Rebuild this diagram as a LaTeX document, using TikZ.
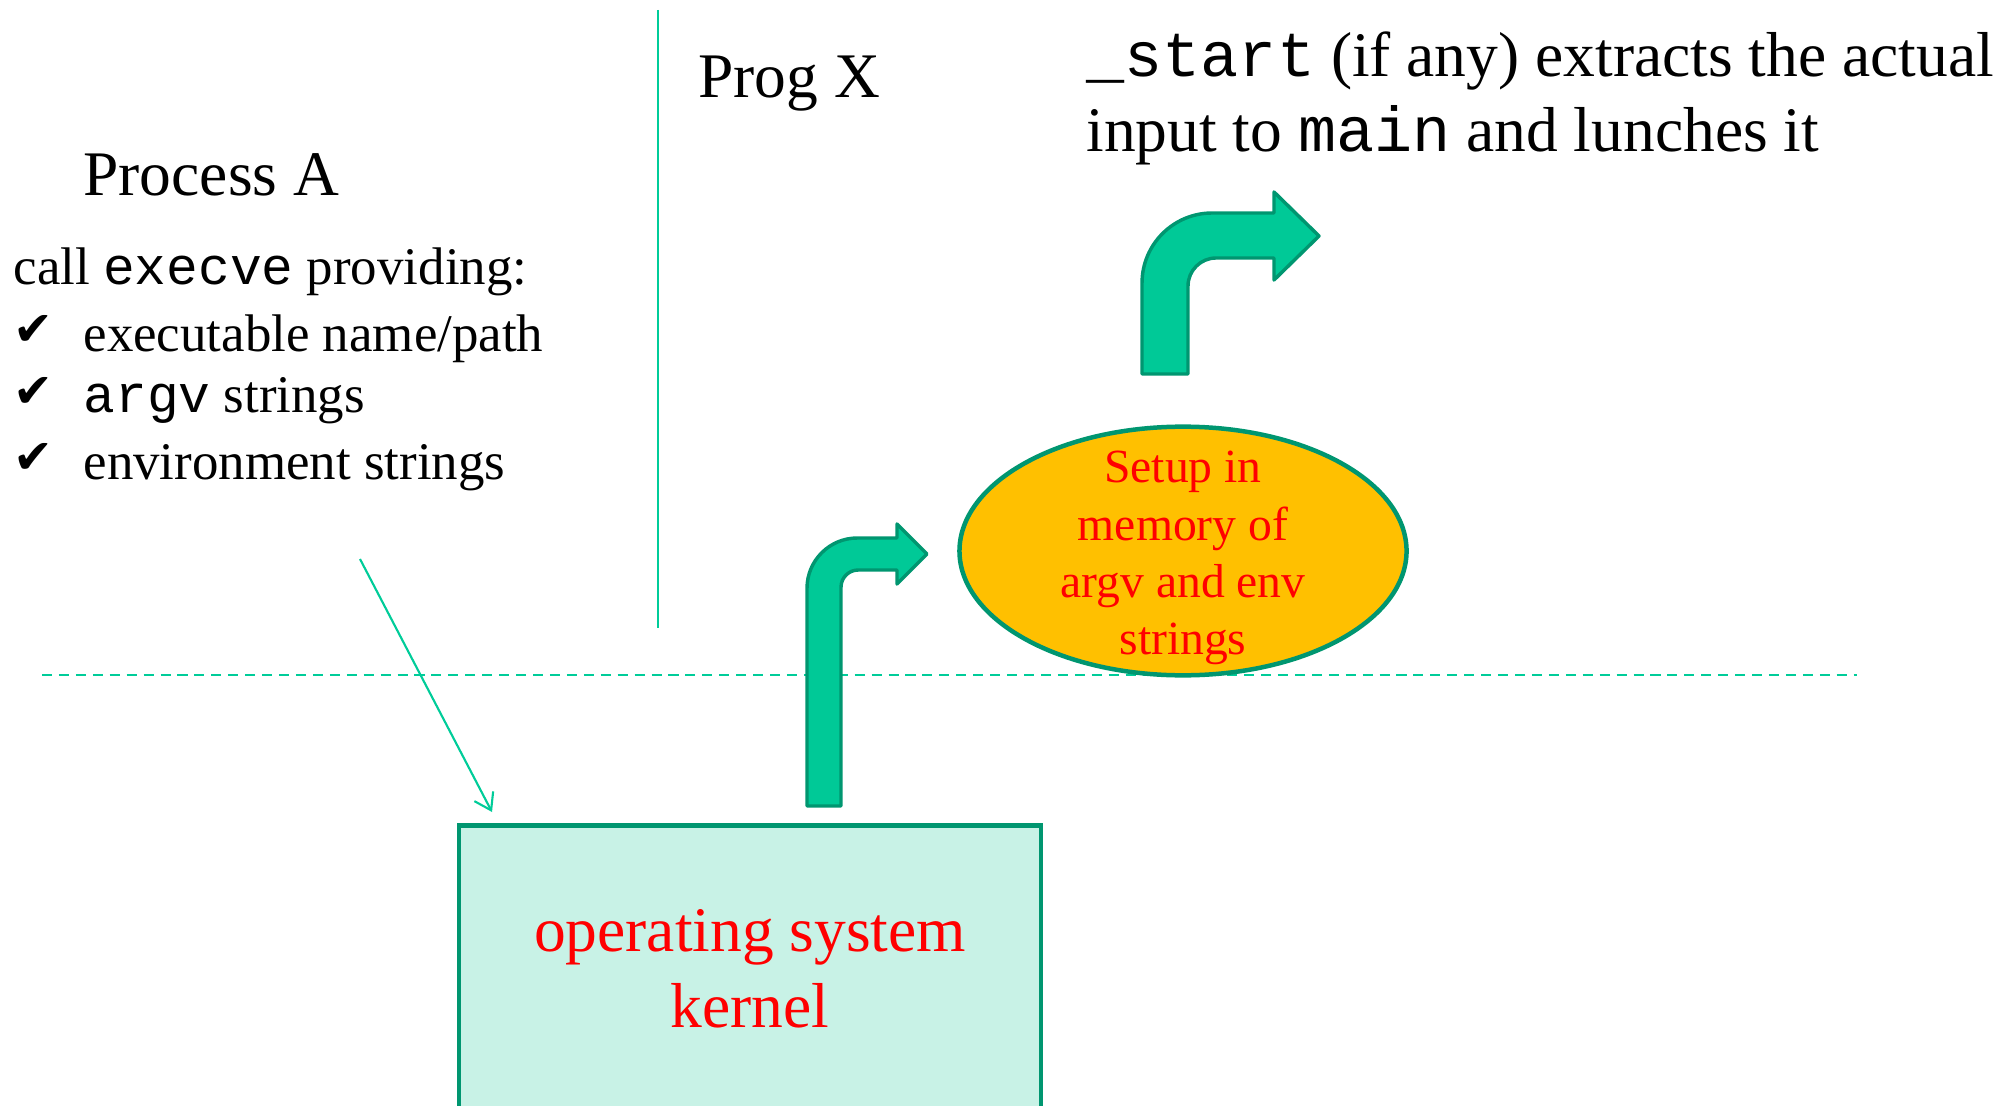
\documentclass[tikz,border=0pt]{standalone}
\usepackage{fontspec}
\setmainfont{Liberation Serif}
\setmonofont{Liberation Mono}
\newfontfamily\symfont{DejaVu Sans}
\usetikzlibrary{shapes.geometric,arrows.meta}
\definecolor{arrowFill}{RGB}{0,201,151}
\definecolor{darkGreen}{RGB}{0,150,112}
\definecolor{lineGreen}{RGB}{0,204,153}
\definecolor{kernelFill}{RGB}{200,242,230}
\definecolor{setupFill}{RGB}{255,192,0}

\begin{document}
\begin{tikzpicture}[x=0.378pt, y=-0.378pt,
    bigText/.style={inner sep=0pt, anchor=base west, font=\fontsize{24}{28.8}\selectfont},
    listText/.style={inner sep=0pt, anchor=base west, font=\fontsize{20}{24}\selectfont},
    tickStyle/.style={inner sep=0pt, anchor=base west, font=\symfont\fontsize{18}{20}\selectfont},
    bentArrow/.style={draw=darkGreen, fill=arrowFill, line width=1.3pt, line join=round},
    thinLine/.style={lineGreen, line width=0.8pt},
    kernelStyle/.style={rectangle, draw=darkGreen, fill=kernelFill, line width=1.7pt, minimum width=220pt, minimum height=108.5pt, align=center, text=red, font=\fontsize{24}{28.8}\selectfont},
    setupStyle/.style={ellipse, draw=darkGreen, fill=setupFill, line width=1.7pt, minimum width=169pt, minimum height=94pt, inner sep=0pt},
    setupFont/.style={align=center, text=red, inner sep=0pt, font=\fontsize{18}{21.6}\selectfont}]
    \clip (0,0) rectangle (2001,1106);

    % dividers
    \draw[thinLine] (658,10) -- (658,628);
    \draw[thinLine, dash pattern=on 3.8pt off 2.6pt] (42,675) -- (1857,675);

    % process A side
    \node[bigText] (procA) at (83,196) {Process A};
    \node[listText] (callLine) at (13,285) {call \texttt{execve} providing:};
    \node[tickStyle] (tick1) at (13,346) {✔};
    \node[listText] (item1) at (83,352) {executable name/path};
    \node[tickStyle] (tick2) at (13,407) {✔};
    \node[listText] (item2) at (83,413) {\texttt{argv} strings};
    \node[tickStyle] (tick3) at (13,473) {✔};
    \node[listText] (item3) at (83,479) {environment strings};

    % prog X side
    \node[bigText] (progX) at (698,98) {Prog X};
    \node[bigText] (startLine) at (1086,77) {\texttt{\_start} (if any) extracts the actual};
    \node[bigText] (mainLine) at (1086,152) {input to \texttt{main} and lunches it};

    \node[setupStyle] (setup) at (1183,551) {};
    \node[setupFont] (setupLabel) at (1183,558) {Setup in\\memory of\\argv and env\\strings};

    \node[kernelStyle] (kernel) at (750,969) {operating system\\kernel};

    % call into the kernel
    \coordinate (callFrom) at (360,559);
    \coordinate (callTo) at (492,812);
    \draw[thinLine, -{Straight Barb[length=6pt, width=8pt]}] (callFrom) -- (callTo);

    % bent arrows
    \draw[bentArrow] (807,806) [rounded corners=19pt] -- (807,538) [sharp corners] -- (897,538) -- (897,524)
        -- (927,554) -- (897,584) -- (897,570) [rounded corners=6.5pt] -- (841,570) [sharp corners] -- (841,806) -- cycle;
    \draw[bentArrow] (1142,374) [rounded corners=26.5pt] -- (1142,213) [sharp corners] -- (1274,213) -- (1274,192)
        -- (1319,236) -- (1274,280) -- (1274,258) [rounded corners=10.6pt] -- (1188,258) [sharp corners] -- (1188,374) -- cycle;
\end{tikzpicture}
\end{document}
